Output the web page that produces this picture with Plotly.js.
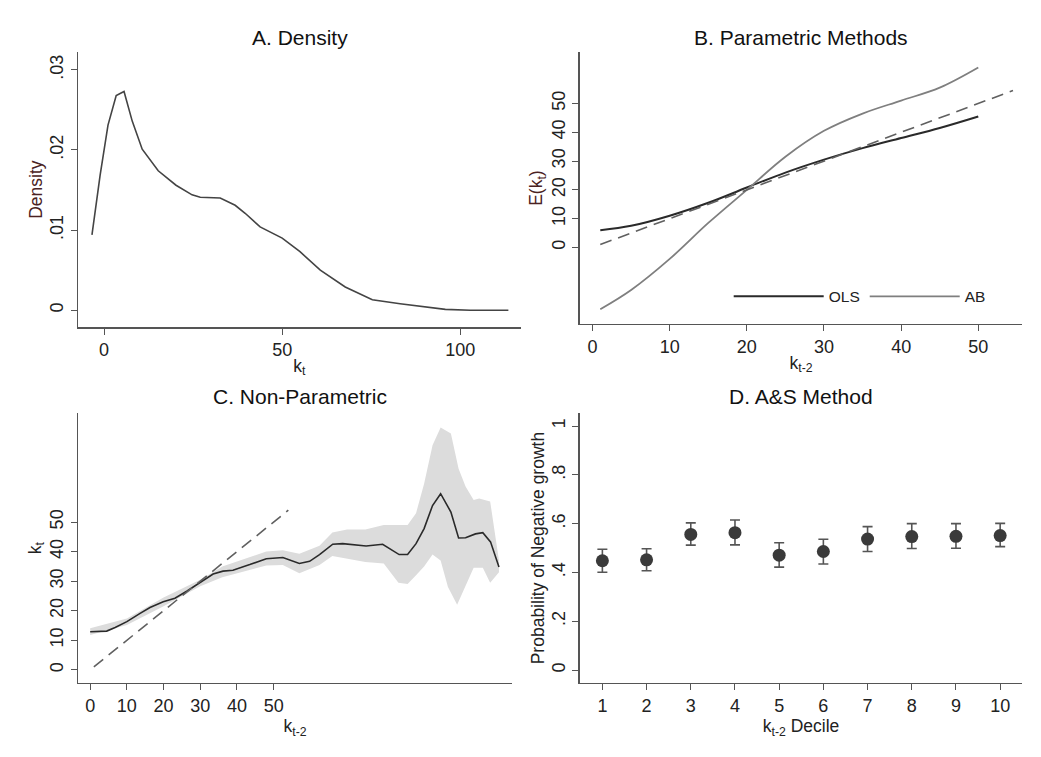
<!DOCTYPE html>
<html>
<head>
<meta charset="utf-8">
<script src="https://cdn.plot.ly/plotly-3.0.1.min.js"></script>
<style>body{margin:0;background:#fff}#chart{width:1041px;height:757px}</style>
</head>
<body>
<div id="chart"></div>
<script>
// Panel A: density of k_t
const densX = [-3.4, -1.1, 1.1, 3.4, 5.6, 7.9, 10.7, 15.2, 20.2, 24.7, 27, 32.6, 36.8, 39.6, 43.8, 50, 55, 60.7, 67.7, 75.3, 83.1, 88.8, 95.8, 102.8, 113.5];
const densY = [0.0094, 0.0169, 0.0231, 0.0268, 0.0273, 0.0236, 0.0201, 0.0174, 0.0156, 0.0144, 0.0141, 0.0140, 0.0131, 0.0121, 0.0104, 0.0090, 0.0073, 0.0050, 0.0029, 0.0013, 0.0008, 0.0005, 0.0001, 0.0000, 0.0000];

// Panel B: parametric fits
const paramX = [1, 5, 10, 15, 20, 25, 30, 35, 40, 45, 50];
const olsY = [6, 7.5, 11, 15.5, 20.8, 26, 30.5, 34.5, 38, 41.5, 45.5];
const abY = [-21.5, -14.8, -4, 8.5, 20, 31.5, 40.5, 46.5, 51, 55.5, 62.5];
const diagB = [1, 54.5];

// Panel C: non-parametric fit with band
const npX = [0, 4.5, 6.8, 10, 13.6, 16.3, 19.9, 23.1, 26.3, 29.9, 33.5, 36.2, 38.9, 43.5, 48, 52.5, 57, 59.8, 62.5, 66.1, 68.8, 75.2, 79.7, 84.2, 86.5, 88.8, 91, 93.3, 95.5, 98.3, 100.4, 102.3, 105, 107, 109.1, 111.4];
const npY = [12.9, 13.1, 14.3, 16.3, 19.1, 21.1, 23, 24.2, 26.6, 29.4, 32.4, 33.4, 33.7, 35.6, 37.6, 38, 36, 36.7, 39, 42.5, 42.7, 41.9, 42.5, 39, 39, 42.7, 47.8, 55.6, 59.6, 53.4, 44.6, 44.7, 46, 46.4, 43.3, 34.8];
const bandUpX = [0, 10, 20, 30, 36, 48, 52.5, 57, 62.5, 66, 70, 75, 80, 86.5, 88.8, 91, 93.3, 95.5, 98.3, 100.4, 102.3, 104.5, 106, 109, 111.4];
const bandUp = [14.1, 17.4, 24.5, 30.5, 35, 40, 40.5, 39.3, 42, 46.5, 47.5, 47.5, 49, 49, 53, 63, 76, 82, 80, 68, 62, 57.5, 58, 57, 37];
const bandLoX = [0, 10, 20, 30, 36, 48, 52.5, 57, 62.5, 66, 70, 75, 80, 84, 86.5, 88.8, 91, 93.3, 95.5, 97.5, 100, 102.5, 104.5, 107, 109, 111.4];
const bandLo = [11.8, 15.2, 21.5, 28.3, 31.3, 35.3, 35.5, 32.7, 35.5, 38.5, 37.5, 36.5, 36, 29.5, 29, 32, 35, 39, 37, 28, 22, 29, 34.5, 34.5, 29.5, 33];
const diagC = [1, 54];

// Panel D: A&S method by decile
const deciles = [1, 2, 3, 4, 5, 6, 7, 8, 9, 10];
const probNeg = [0.448, 0.452, 0.556, 0.563, 0.471, 0.486, 0.537, 0.547, 0.548, 0.551];
const ciUp = [0.495, 0.497, 0.603, 0.615, 0.522, 0.536, 0.588, 0.600, 0.600, 0.601];
const ciLo = [0.401, 0.407, 0.512, 0.513, 0.422, 0.435, 0.486, 0.498, 0.499, 0.506];

const dark = '#3a3a3a';
const grey = '#7f7f7f';
const bandX = bandUpX.concat(bandLoX.slice().reverse());
const bandY = bandUp.concat(bandLo.slice().reverse());

const traces = [
  { x: densX, y: densY, mode: 'lines', line: { color: '#444', width: 1.6 }, xaxis: 'x', yaxis: 'y', showlegend: false },

  { x: paramX, y: olsY, name: 'OLS', mode: 'lines', line: { color: '#2a2a2a', width: 2, shape: 'spline' }, xaxis: 'x2', yaxis: 'y2' },
  { x: paramX, y: abY, name: 'AB', mode: 'lines', line: { color: grey, width: 1.8, shape: 'spline' }, xaxis: 'x2', yaxis: 'y2' },
  { x: diagB, y: diagB, mode: 'lines', line: { color: '#606060', width: 1.6, dash: '12px,7px' }, xaxis: 'x2', yaxis: 'y2', showlegend: false },

  { x: bandX, y: bandY, fill: 'toself', fillcolor: '#dcdcdc', line: { width: 0 }, mode: 'lines', xaxis: 'x3', yaxis: 'y3', showlegend: false },
  { x: npX, y: npY, mode: 'lines', line: { color: '#2a2a2a', width: 1.6 }, xaxis: 'x3', yaxis: 'y3', showlegend: false },
  { x: diagC, y: diagC, mode: 'lines', line: { color: '#606060', width: 1.6, dash: '12px,7px' }, xaxis: 'x3', yaxis: 'y3', showlegend: false },

  {
    x: deciles, y: probNeg, mode: 'markers', marker: { color: dark, size: 13 },
    error_y: {
      type: 'data', symmetric: false,
      array: ciUp.map((v, i) => v - probNeg[i]),
      arrayminus: probNeg.map((v, i) => v - ciLo[i]),
      color: '#555', thickness: 1.6, width: 5
    },
    xaxis: 'x4', yaxis: 'y4', showlegend: false
  }
];

const tickFont = { family: 'Liberation Sans, Arial, sans-serif', size: 18, color: '#222' };
const axisBase = {
  showgrid: false, zeroline: false, showline: true, linecolor: '#555', linewidth: 1.5,
  ticks: 'outside', ticklen: 6, tickcolor: '#555', tickfont: tickFont
};
const titleFont = { family: 'Liberation Sans, Arial, sans-serif', size: 17.5, color: '#222' };
const yTitleFont = { family: 'Liberation Sans, Arial, sans-serif', size: 17.5, color: '#4a2222' };

const panelTitle = (text, x, y) => ({
  text: text, x: x, y: y, xref: 'paper', yref: 'paper', xanchor: 'center', yanchor: 'middle',
  showarrow: false, font: { size: 21, color: '#111' }
});

const layout = {
  width: 1041, height: 757,
  margin: { l: 0, r: 0, t: 0, b: 0 },
  paper_bgcolor: 'white', plot_bgcolor: 'white',
  font: { family: 'Liberation Sans, Arial, sans-serif' },
  xaxis: Object.assign({}, axisBase, { domain: [0.075, 0.5], anchor: 'y', range: [-7.3, 116.9], tickvals: [0, 50, 100],
    title: { text: 'k<sub>t</sub>', font: titleFont, standoff: 0 } }),
  yaxis: Object.assign({}, axisBase, { domain: [0.568, 0.931], anchor: 'x', range: [-0.0021, 0.0322],
    tickvals: [0, 0.01, 0.02, 0.03], ticktext: ['0', '.01', '.02', '.03'], tickangle: -90,
    title: { text: 'Density', font: yTitleFont, standoff: 0 } }),

  xaxis2: Object.assign({}, axisBase, { domain: [0.557, 0.982], anchor: 'y2', range: [-1.65, 55.7], tickvals: [0, 10, 20, 30, 40, 50],
    title: { text: 'k<sub>t-2</sub>', font: titleFont, standoff: 0 } }),
  yaxis2: Object.assign({}, axisBase, { domain: [0.572, 0.931], anchor: 'x2', range: [-26.6, 67.8],
    tickvals: [0, 10, 20, 30, 40, 50], tickangle: -90,
    title: { text: 'E(k<sub>t</sub>)', font: yTitleFont, standoff: 0 } }),

  xaxis3: Object.assign({}, axisBase, { domain: [0.075, 0.492], anchor: 'y3', range: [-3.3, 115], tickvals: [0, 10, 20, 30, 40, 50],
    title: { text: 'k<sub>t-2</sub>', font: titleFont, standoff: 0 } }),
  yaxis3: Object.assign({}, axisBase, { domain: [0.098, 0.454], anchor: 'x3', range: [-4.4, 86.8],
    tickvals: [0, 10, 20, 30, 40, 50], tickangle: -90,
    title: { text: 'k<sub>t</sub>', font: titleFont, standoff: 0 } }),

  xaxis4: Object.assign({}, axisBase, { domain: [0.557, 0.982], anchor: 'y4', range: [0.49, 10.5], tickvals: deciles,
    title: { text: 'k<sub>t-2</sub> Decile', font: titleFont, standoff: 0 } }),
  yaxis4: Object.assign({}, axisBase, { domain: [0.098, 0.454], anchor: 'x4', range: [-0.052, 1.052],
    tickvals: [0, 0.2, 0.4, 0.6, 0.8, 1], ticktext: ['0', '.2', '.4', '.6', '.8', '1'], tickangle: -90,
    title: { text: 'Probability of Negative growth', font: titleFont, standoff: 0 } }),

  legend: {
    orientation: 'h', x: 0.7, y: 0.608, xanchor: 'left', yanchor: 'middle',
    bgcolor: 'rgba(0,0,0,0)', font: { size: 15.5, color: '#222' }, itemwidth: 90, traceorder: 'normal'
  },
  annotations: [
    panelTitle('A. Density', 0.288, 0.95),
    panelTitle('B. Parametric Methods', 0.769, 0.95),
    panelTitle('C. Non-Parametric', 0.288, 0.476),
    panelTitle('D. A&amp;S Method', 0.769, 0.476)
  ]
};

Plotly.newPlot('chart', traces, layout, { displayModeBar: false, staticPlot: true });
</script>
</body>
</html>
